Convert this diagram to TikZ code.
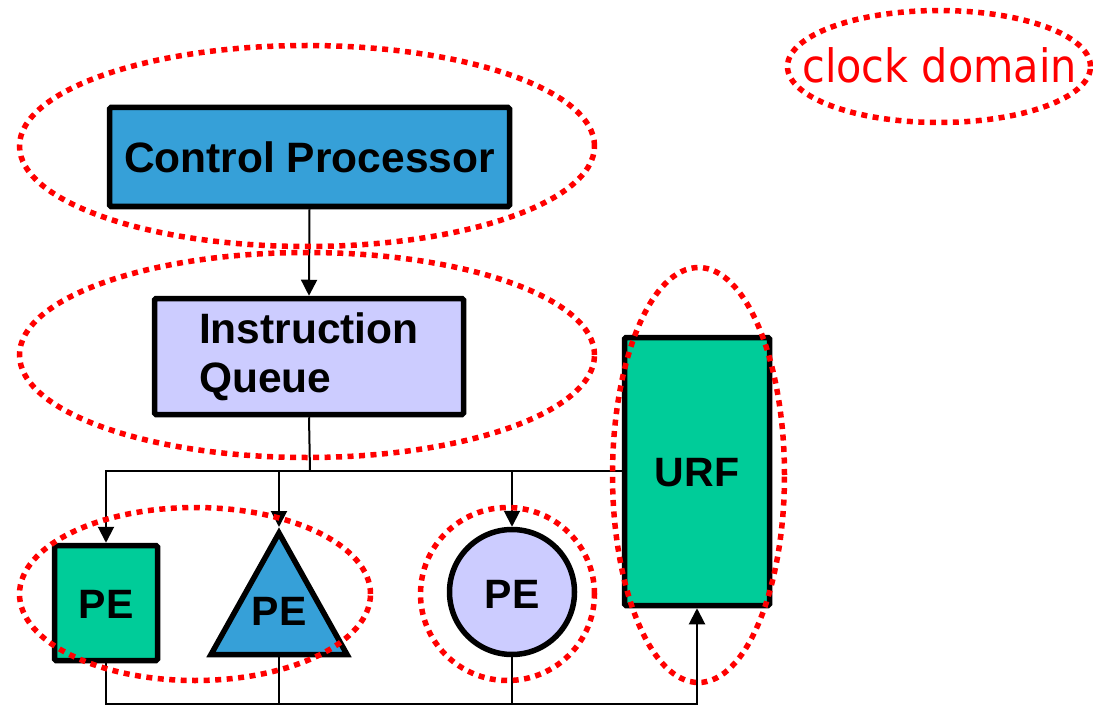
\documentclass[tikz,border=0pt]{standalone}
\usepackage{fontspec}
\setmainfont{Liberation Sans}
\newfontfamily\domainfont{DejaVu Sans}
\usetikzlibrary{arrows.meta,shapes.geometric,calc}

\definecolor{cpblue}{HTML}{36A0D8}
\definecolor{qlilac}{HTML}{CCCCFF}
\definecolor{pegreen}{HTML}{00CC99}
\definecolor{domred}{HTML}{FF0000}

\tikzset{
  unitbox/.style={draw=black, line width=5.5pt, rounded corners=1.5pt, inner sep=0pt,
    font=\bfseries\fontsize{42.5}{49}\selectfont},
  pelabel/.style={inner sep=0pt, font=\bfseries\fontsize{41}{49}\selectfont},
  wire/.style={draw=black, line width=2pt},
  feed/.style={wire, -{Triangle[width=16pt,length=16pt]}},
  clockzone/.style={draw=domred, ellipse, line width=5.5pt, dash pattern=on 6pt off 5.5pt,
    inner sep=0pt, fill=none},
}

\begin{document}
\begin{tikzpicture}[x=1pt,y=-1pt]
\useasboundingbox (0,0) rectangle (1093,706);

% processing units
\node[unitbox, fill=cpblue, minimum width=400pt, minimum height=99pt] (cp) at (309.5,157) {Control Processor};
\node[unitbox, fill=qlilac, minimum width=309pt, minimum height=116pt, text width=220pt, align=left] (iq) at (309,356.5) {Instruction\\Queue};
\node[unitbox, fill=pegreen, minimum width=103pt, minimum height=115pt] (pe1) at (106,603) {};
\node[pelabel] (pe1t) at (106,604) {PE};
\coordinate (tA) at (279,533);
\coordinate (tL) at (211,654.5);
\coordinate (tR) at (347,654.5);
\coordinate (tB) at (279,654.5);
\draw[line width=5.5pt, fill=cpblue, line join=miter] (tA) -- (tL) -- (tR) -- cycle;
\node[pelabel] (pe2t) at (279,611) {PE};
\node[unitbox, circle, fill=qlilac, minimum size=125pt] (pe3) at (512,592) {};
\node[pelabel] (pe3t) at (512,594) {PE};
\node[unitbox, fill=pegreen, minimum width=145pt, minimum height=268pt] (urf) at (697,471.5) {};
\node[pelabel] (urft) at (697,473) {URF};

% instruction broadcast
\draw[feed] (cp.south) -- (iq.north);
\coordinate (bus) at (310,471);
\draw[wire] (iq.south) -- (bus);
\draw[feed] (urf.west |- bus) -| (pe1.north);
\draw[feed] (tA |- bus) -- ($(tA)+(0,-6)$);
\draw[feed] (pe3.north |- bus) -- (pe3.north);

% result return path
\coordinate (ret) at (697,704);
\draw[feed] (pe1.south) |- (ret) -- (urf.south);
\draw[wire] (tB) -- (tB |- ret);
\draw[wire] (pe3.south) -- (pe3.south |- ret);

% clock domains
\node[clockzone, minimum width=575pt, minimum height=201pt] (dcp) at (307,146) {};
\node[clockzone, minimum width=575pt, minimum height=205pt] (diq) at (307,355) {};
\node[clockzone, minimum width=351pt, minimum height=173pt] (dpe) at (195,594) {};
\node[clockzone, minimum width=174pt, minimum height=173pt] (dpe3) at (507.5,594) {};
\node[clockzone, minimum width=172pt, minimum height=415pt] (durf) at (698.5,475) {};
\node[clockzone, minimum width=303pt, minimum height=112pt] (dkey) at (939,66.5) {};
\node[anchor=base, inner sep=0pt, text=domred] (keyt) at (939.5,83)
  {\scalebox{0.9}[1]{\domainfont\fontsize{46}{46}\selectfont clock domain}};
\end{tikzpicture}
\end{document}
